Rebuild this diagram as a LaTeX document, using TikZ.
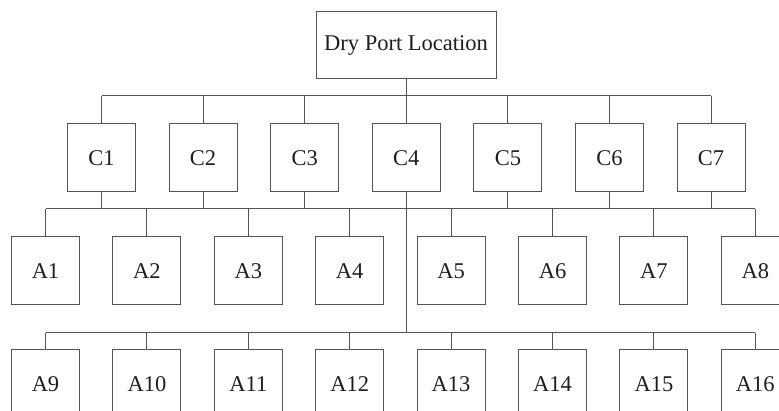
\documentclass[tikz,border=0pt]{standalone}
\usepackage{fontspec}
\setmainfont{Liberation Serif}
\newfontfamily\lserif{Liberation Serif}
\definecolor{linecol}{HTML}{555555}
\definecolor{txtcol}{HTML}{1E1E1E}
\begin{document}
\begin{tikzpicture}[x=1pt,y=-1pt,
  box/.style={draw=linecol,line width=1pt,fill=white,minimum width=68pt,minimum height=68pt,inner sep=0pt,text=txtcol,font=\lserif\fontsize{22.5}{27}\selectfont},
  conn/.style={draw=linecol,line width=1pt}]
\useasboundingbox (0,0) rectangle (779,411);
\clip (0,0) rectangle (779,411);
\coordinate (b1) at (0,96);
\coordinate (b2) at (0,209);
\coordinate (b3) at (0,333);
\node[box,minimum width=180pt,minimum height=67pt] (top) at (406,45.5) {Dry Port Location};
\foreach \i in {1,...,7} {
  \node[box] (c\i) at ({101.5+101.6*(\i-1)},158) {C\i};
}
\foreach \i in {1,...,8} {
  \node[box] (a\i) at ({45.5+101.4*(\i-1)},271) {A\i};
}
\foreach \i [evaluate=\i as \j using int(\i+8)] in {1,...,8} {
  \node[box] (a\j) at ({45.5+101.4*(\i-1)},384) {A\j};
}
\draw[conn] (top.south) -- (top.south |- b1);
\draw[conn] (c1.north |- b1) -- (c7.north |- b1);
\foreach \i in {1,...,7} {
  \draw[conn] (c\i.north |- b1) -- (c\i.north);
  \draw[conn] (c\i.south) -- (c\i.south |- b2);
}
\draw[conn] (a1.north |- b2) -- (a8.north |- b2);
\foreach \i in {1,...,8} {
  \draw[conn] (a\i.north |- b2) -- (a\i.north);
}
\draw[conn] (c4.south) -- (c4.south |- b3);
\draw[conn] (a9.north |- b3) -- (a16.north |- b3);
\foreach \i in {9,...,16} {
  \draw[conn] (a\i.north |- b3) -- (a\i.north);
}
\end{tikzpicture}
\end{document}
